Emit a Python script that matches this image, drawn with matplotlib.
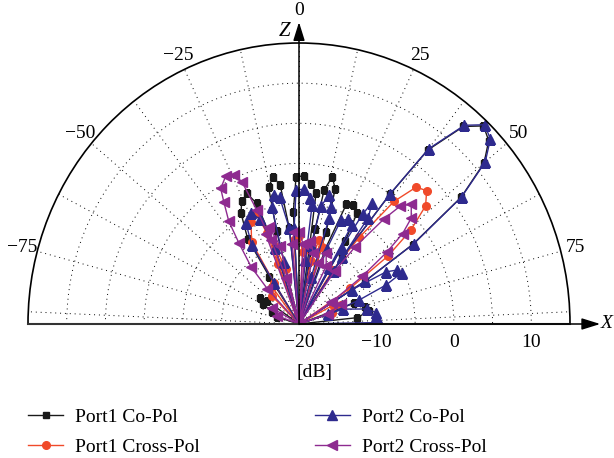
import numpy as np
import matplotlib
matplotlib.use('Agg')
import matplotlib.pyplot as plt

plt.rcParams['font.family'] = ['Liberation Serif', 'DejaVu Serif']
plt.rcParams['font.size'] = 14
plt.rcParams['axes.unicode_minus'] = True

# ---- data: angle (deg) and level (dB), lobes joined through the centre ----
p1co_deg = [-80, -73, -67, -62, -58, -55, -50,
            -30, -33, -32, -28.5, -25.8, -22.5, -20, -18, -15,
            -12, -14, -13, -10.4, -8, -6, -5,
            -4, -3, -1.2, 2, 5.1, 7.7, 8, 6,
            9, 10, 11, 13.2, 15.5, 17, 16,
            18, 20, 22.3, 25, 28.5, 30, 28,
            33, 34, 36, 37.5, 40.8, 44, 47, 50, 53, 56, 58, 60,
            64, 70, 76, 80, 84, 88]
p1co_db = [-20, -17, -16.2, -14.8, -14, -15, -20,
           -20, -13, -7.5, -4.3, -3, -2.4, -4, -10, -20,
           -20, -8, -2.5, -1.4, -2.5, -8, -20,
           -20, -6, -1.7, -1.5, -2.5, -3.5, -10, -20,
           -20, -8, -3, -1.2, -2.5, -8, -20,
           -20, -10, -3.9, -3.6, -4.3, -8, -20,
           -20, -10, 0, 7.3, 12.5, 14.3, 13.5, 11.2, 6.2, -2.3, -10, -20,
           -20, -12.5, -11.2, -10.8, -12.5, -20]

p1x_deg = [-50, -45, -37, -30,
           -28, -32, -31, -26, -22, -20, -18,
           -20, -20, -17.5, -14, -10,
           -6, -3.5, 0, 3, 2,
           8, 11, 13.9, 17, 18,
           30, 33, 35.8, 38.8, 41.6, 44.8, 48, 51, 53.6, 56, 58,
           55, 62, 66, 72, 80]
p1x_db = [-20, -15, -14.2, -20,
          -20, -14, -8.1, -5.9, -5.1, -8, -20,
          -20, -12, -10, -13, -20,
          -20, -9.5, -9, -11, -20,
          -20, -12, -9.2, -10, -20,
          -20, -12, -6.7, -0.4, 2.8, 3.4, 2, -1.4, -5.7, -12, -20,
          -20, -15, -14.1, -15.5, -20]

p2co_deg = [-30, -32, -31.8, -28.6, -24.2, -21, -18, -14,
            -10, -14, -13.5, -11.4, -9, -6, -4,
            -3, -3, -1.3, 2, 5, 6.5, 6, 4,
            8, 9, 11, 13.6, 16, 16.5, 15, 12,
            18, 21, 22.7, 26, 29, 29, 26,
            28, 30, 31, 32, 34, 34, 32,
            33, 34, 36, 37.5, 40.8, 44, 47, 50, 53, 56, 58, 60,
            55, 58, 60, 62, 64.3, 66.6, 69, 72, 75,
            68, 72, 78, 82, 86, 89, 90]
p2co_db = [-20, -14, -8.4, -5.7, -4.9, -6, -10, -20,
           -20, -12, -5, -3.6, -4, -8, -20,
           -20, -8, -3.3, -3.2, -4.2, -5.1, -12, -20,
           -20, -10, -5, -3.5, -4.8, -6.2, -14, -20,
           -20, -10, -6, -5.5, -5.9, -12, -20,
           -20, -9, -4, -2.2, -4, -12, -20,
           -20, -10, 0, 7.5, 12.7, 14.5, 13.8, 11.4, 6.3, -2.1, -10, -20,
           -20, -12, -7, -5.7, -5.3, -7.7, -11.7, -16, -20,
           -20, -14, -11, -9.9, -9.9, -10.5, -20]

p2x_deg = [-80, -70, -60, -50,
           -40, -43, -41, -37.6, -35.3, -32.6, -30.9, -27.2, -24.3, -22.6,
           -21, -19, -16, -12,
           -20, -21, -17.8, -14, -10,
           -6, -5, -3.2, 0, 3, 2,
           4, 5, 8, 12, 10,
           14, 18, 21.7, 26, 24,
           32, 35, 37, 40, 41.7, 44.2, 47.7, 49.9, 51.7, 54, 57, 58,
           50, 58, 65, 72, 78]
p2x_db = [-20, -17, -16, -20,
          -20, -14, -10.6, -7.3, -4.3, -2, -0.3, 0.7, 0.4, -0.8,
          -4.8, -9, -14, -20,
          -20, -8, -7.3, -10, -20,
          -20, -10, -8.5, -8.5, -10, -20,
          -20, -9.9, -9.5, -11, -20,
          -20, -12, -10.5, -12, -20,
          -20, -12, -8, -2.9, -0.3, 0.8, -0.4, -2.5, -5.5, -9.9, -15, -20,
          -20, -15, -14, -16, -20]

labels = ['Port1 Co-Pol', 'Port1 Cross-Pol', 'Port2 Co-Pol', 'Port2 Cross-Pol']
colors = ['#1a1a1a', '#f04a2a', '#2e2a8e', '#8e2a90']
markers = ['s', 'o', '^', '<']
msizes = [5, 5.5, 6.5, 6.5]

theta_ticks = [-87.5, -75, -62.5, -50, -37.5, -25, -12.5, 0,
               12.5, 25, 37.5, 50, 62.5, 75, 87.5]
theta_labels = ['', '\u221275', '', '\u221250', '', '\u221225', '', '',
                '', '25', '', '50', '', '75', '']
r_grid = [-15, -10, -5, 0, 5, 10]
r_labels = [-20, -10, 0, 10]

fig = plt.figure(figsize=(6.14, 4.58), dpi=100)
# the half-disc wedge box is padded to a square, so the axes box is twice
# as tall as the half disc; this lets the disc be a little taller than wide
ax = fig.add_axes([28/614, 1 - 464.5/458, 542/614, 562/458],
                  projection='polar')
ax.set_theta_zero_location('N')
ax.set_theta_direction(-1)
ax.set_thetamin(-90)
ax.set_thetamax(90)
ax.set_aspect('auto')

series = [(p1co_deg, p1co_db), (p1x_deg, p1x_db),
          (p2co_deg, p2co_db), (p2x_deg, p2x_db)]
for (deg, db), c, m, ms, lab in zip(series, colors, markers, msizes, labels):
    ax.plot(np.deg2rad(deg), db, color=c, marker=m, ms=ms, lw=1.0,
            label=lab)

ax.set_rlim(-20, 15)
ax.set_rticks(r_grid)
ax.set_yticklabels([])
ax.set_xticks(np.deg2rad(theta_ticks))
ax.set_xticklabels(theta_labels)
ax.grid(True, color='k', linestyle=(0, (1, 4)), linewidth=0.7)
ax.tick_params(axis='x', direction='in', length=5, width=0.8, pad=4,
               labelsize=14)
ax.spines['polar'].set_linewidth(1.2)
for s in ['start', 'end']:
    ax.spines[s].set_linewidth(1.5)
    ax.spines[s].set_color('#333333')

# axis arrows (X to the right, Z up)
arrow = dict(arrowstyle='-|>,head_length=0.8,head_width=0.25', color='k',
             lw=1.1, shrinkA=0, shrinkB=0)
ax.annotate('', xy=(np.pi/2, 18.9), xytext=(0, -20), arrowprops=arrow,
            annotation_clip=False)
ax.annotate('', xy=(0, 17.6), xytext=(0, -20), arrowprops=arrow,
            annotation_clip=False)
ax.text(np.pi/2, 19.0, 'X', style='italic', ha='left', va='center',
        fontsize=14)
ax.text(np.deg2rad(-3.0), 16.5, 'Z', style='italic', ha='center',
        va='center', fontsize=15)
ax.text(0, 19.1, '0', ha='center', va='center')

for r in r_labels:
    ax.annotate(str(r).replace('-', '\u2212'), xy=(np.pi/2, r),
                xytext=(0, -19), textcoords='offset pixels',
                ha='center', va='center', annotation_clip=False)
fig.text(314/614, 1 - 372/458, '[dB]', ha='center', va='center')

h, l = ax.get_legend_handles_labels()
fig.legend(h, l, loc='upper left', bbox_to_anchor=(28/614, 1 - 408/458),
           ncol=2, frameon=False, handlelength=1.8, handletextpad=0.62,
           columnspacing=5.9, labelspacing=0.66, borderpad=0,
           borderaxespad=0, fontsize=14)

fig.savefig('out.png', dpi=100)
